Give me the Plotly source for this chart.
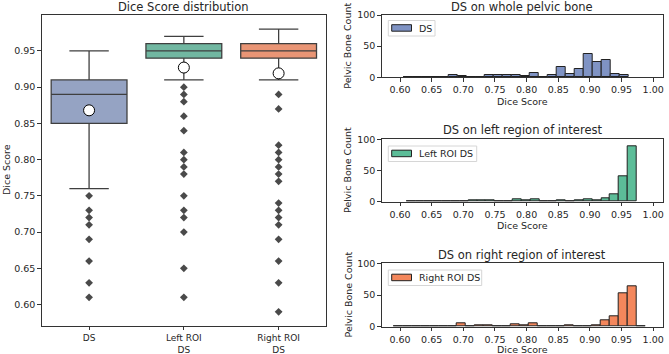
import numpy as np
import plotly.graph_objects as go

# ---------------- data ----------------
box_categories = ["DS", "Left ROI<br>DS", "Right ROI<br>DS"]
box_q1 = [0.85, 0.94, 0.94]
box_median = [0.89, 0.95, 0.95]
box_q3 = [0.91, 0.96, 0.96]
box_lower = [0.76, 0.91, 0.91]
box_upper = [0.95, 0.97, 0.98]
box_mean = [0.868, 0.927, 0.919]

ds_outliers = [0.75, 0.73, 0.72, 0.71, 0.69, 0.66, 0.63, 0.61]
left_outliers = [0.90, 0.89, 0.88, 0.86, 0.84, 0.81, 0.80, 0.79, 0.78,
                 0.75, 0.73, 0.72, 0.70, 0.65, 0.61]
right_outliers = [0.89, 0.87, 0.82, 0.81, 0.80, 0.79, 0.78, 0.77, 0.74,
                  0.73, 0.72, 0.71, 0.69, 0.66, 0.63, 0.59]

# histogram bins (left edge of first bin, bin width) and counts
ds_bin_start, ds_bin_width = 0.605, 0.01424
ds_counts = [1, 1, 0, 1, 0, 4, 2, 1, 1, 3, 4, 4, 3, 2, 7, 0, 4, 16, 6, 13,
             38, 25, 28, 6, 4]

left_bin_start, left_bin_width = 0.610, 0.0140
left_counts = [1, 0, 1, 0, 0, 0, 1, 2, 2, 2, 0, 0, 4, 2, 4, 0, 1, 2, 0, 2,
               4, 2, 6, 12, 40, 88]

right_bin_start, right_bin_width = 0.5904, 0.0142
right_counts = [1, 0, 1, 0, 1, 0, 1, 5, 1, 2, 2, 0, 1, 4, 3, 5, 0, 0, 0, 2,
                0, 1, 2, 10, 17, 53, 63, 1]

hist_titles = ["DS on whole pelvic bone", "DS on left region of interest",
               "DS on right region of interest"]
hist_names = ["DS", "Left ROI DS", "Right ROI DS"]

# ---------------- styles ----------------
W, H = 669, 354
FONT = "DejaVu Sans"
TXT = "#262626"
box_fill = ["#95a3c3", "#71b7a1", "#e99575"]
hist_fill = ["#7f93c4", "#5cbd98", "#f4875c"]
edge = "#3f3f3f"
axis_col = "#333333"


def px_x(p):
    return p / W


def px_y(p):
    return 1 - p / H


fig = go.Figure()

# ---------------- box plot ----------------
for i, cat in enumerate(box_categories):
    fig.add_trace(go.Box(
        x=[cat], q1=[box_q1[i]], median=[box_median[i]], q3=[box_q3[i]],
        lowerfence=[box_lower[i]], upperfence=[box_upper[i]],
        fillcolor=box_fill[i], line=dict(color=edge, width=1.3),
        width=0.8, whiskerwidth=0.52, showlegend=False,
        xaxis="x", yaxis="y", hoverinfo="skip"))

outlier_sets = [ds_outliers, left_outliers, right_outliers]
for i, cat in enumerate(box_categories):
    fig.add_trace(go.Scatter(
        x=[cat] * len(outlier_sets[i]), y=outlier_sets[i], mode="markers",
        marker=dict(symbol="diamond", size=6, color="#4a4a4a",
                    line=dict(width=0)),
        showlegend=False, xaxis="x", yaxis="y"))

fig.add_trace(go.Scatter(
    x=box_categories, y=box_mean, mode="markers",
    marker=dict(symbol="circle", size=11, color="white",
                line=dict(color="black", width=1)),
    showlegend=False, xaxis="x", yaxis="y"))

# ---------------- histograms ----------------
hist_specs = [
    (ds_bin_start, ds_bin_width, ds_counts),
    (left_bin_start, left_bin_width, left_counts),
    (right_bin_start, right_bin_width, right_counts),
]
for k, (start, width, counts) in enumerate(hist_specs):
    centers = start + width * (np.arange(len(counts)) + 0.5)
    fig.add_trace(go.Bar(
        x=centers, y=counts, width=width, name=hist_names[k],
        marker=dict(color=hist_fill[k], line=dict(color="#222222", width=1)),
        xaxis=f"x{k + 2}", yaxis=f"y{k + 2}", showlegend=False))

# ---------------- layout ----------------
tickfont = dict(family=FONT, size=9.5, color=TXT)

box_x_dom = [px_x(41.7), px_x(326)]
box_y_dom = [px_y(326), px_y(15)]
hist_x_dom = [px_x(381.7), px_x(663)]
hist_y_doms = [
    [px_y(77.3), px_y(15)],
    [px_y(201.7), px_y(139.3)],
    [px_y(326.7), px_y(263.3)],
]

common_axis = dict(showline=True, linecolor=axis_col, linewidth=1, mirror=True,
                   ticks="outside", ticklen=3.5, tickcolor=axis_col,
                   showgrid=False, zeroline=False, tickfont=tickfont,
                   automargin=False)

box_x_axis = dict(common_axis)
box_x_axis.update(ticklen=3, tickfont=dict(family=FONT, size=9, color=TXT))

layout = dict(
    width=W, height=H, margin=dict(l=0, r=0, t=0, b=0),
    paper_bgcolor="white", plot_bgcolor="white",
    font=dict(family=FONT, color=TXT),
    barmode="overlay", boxmode="overlay", bargap=0, showlegend=False,
    xaxis=dict(domain=box_x_dom, anchor="y", type="category",
               categoryorder="array", categoryarray=box_categories,
               range=[-0.5, 2.5], **box_x_axis),
    yaxis=dict(domain=box_y_dom, anchor="x", range=[0.5705, 0.9995],
               tickvals=[0.60, 0.65, 0.70, 0.75, 0.80, 0.85, 0.90, 0.95],
               tickformat=".2f", **common_axis),
)

for k in range(3):
    n = k + 2
    layout[f"xaxis{n}"] = dict(
        domain=hist_x_dom, anchor=f"y{n}", range=[0.571, 1.0155],
        tickvals=[0.60, 0.65, 0.70, 0.75, 0.80, 0.85, 0.90, 0.95, 1.00],
        tickformat=".2f", **common_axis)
    layout[f"yaxis{n}"] = dict(
        domain=hist_y_doms[k], anchor=f"x{n}", range=[0, 100],
        tickvals=[0, 50, 100], **common_axis)

annotations = []
shapes = []


def add_text(text, x, y, size=9.5, angle=0, xanchor="center", yanchor="middle"):
    annotations.append(dict(
        text=text, x=px_x(x), y=px_y(y), xref="paper", yref="paper",
        xanchor=xanchor, yanchor=yanchor, showarrow=False, textangle=angle,
        font=dict(family=FONT, size=size, color=TXT)))


# titles
add_text("Dice Score distribution", (41.7 + 326) / 2, 7, size=11.5)
hist_title_y = [7, 130, 255]
for k in range(3):
    add_text(hist_titles[k], (381.7 + 663) / 2, hist_title_y[k], size=11.5)

# axis titles
add_text("Dice Score", 6, 170, angle=-90)
hist_xtitle_y = [101.5, 225, 349]
for k in range(3):
    add_text("Dice Score", (381.7 + 663) / 2, hist_xtitle_y[k])
    ymid = (hist_y_doms[k][0] + hist_y_doms[k][1]) / 2
    annotations.append(dict(
        text="Pelvic Bone Count", x=px_x(347.5), y=ymid, xref="paper",
        yref="paper", xanchor="center", yanchor="middle", showarrow=False,
        textangle=-90, font=dict(family=FONT, size=9.5, color=TXT)))

# legends (drawn as frame + patch + label)
legend_tops = [20.5, 146, 270]
legend_rights = [435, 476.7, 481.7]
for k in range(3):
    top = legend_tops[k]
    shapes.append(dict(
        type="rect", xref="paper", yref="paper",
        x0=px_x(388.3), x1=px_x(legend_rights[k]),
        y0=px_y(top + 15.5), y1=px_y(top),
        line=dict(color="#d6d6d6", width=1), fillcolor="rgba(255,255,255,0.8)",
        layer="above"))
    shapes.append(dict(
        type="rect", xref="paper", yref="paper",
        x0=px_x(391.7), x1=px_x(411.5),
        y0=px_y(top + 10.7), y1=px_y(top + 4.2),
        line=dict(color="#222222", width=1), fillcolor=hist_fill[k],
        layer="above"))
    add_text(hist_names[k], 417, top + 7.8, xanchor="left")

layout["annotations"] = annotations
layout["shapes"] = shapes

fig.update_layout(**layout)
fig.write_html(
    "out.html",
    config={"displayModeBar": False},
    post_script="document.body.style.margin='0';"
                "document.body.style.overflow='hidden';")
